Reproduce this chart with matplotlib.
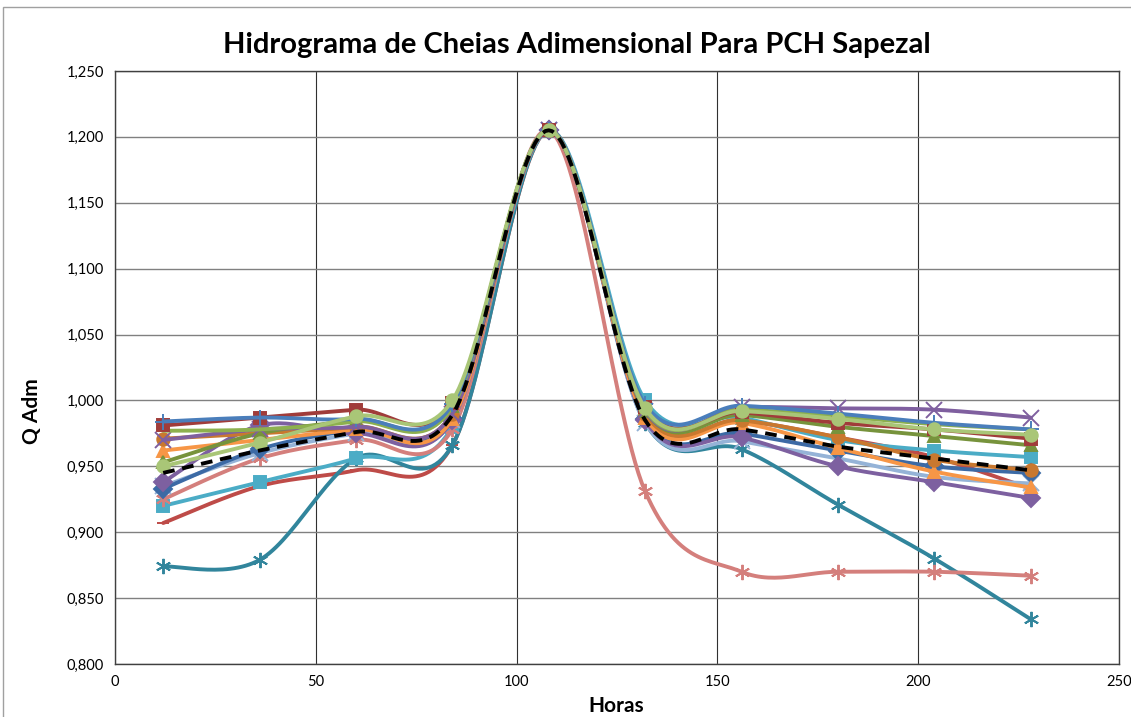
import numpy as np
import matplotlib
matplotlib.use("Agg")
import matplotlib.pyplot as plt
from matplotlib.patches import Rectangle
from matplotlib.ticker import FuncFormatter

plt.rcParams['font.family'] = ['Lato', 'DejaVu Sans']

# Horas
horas = [12, 36, 60, 84, 108, 132, 156, 180, 204, 228]

# Q adimensional de cada cheia
s_azul_mais = [0.984, 0.987, 0.986, 0.997, 1.205, 0.997, 0.996, 0.990, 0.983, 0.978]
s_vinho_quad = [0.981, 0.987, 0.993, 0.998, 1.205, 0.995, 0.991, 0.983, 0.978, 0.971]
s_verde_linha = [0.977, 0.978, 0.984, 0.995, 1.205, 0.993, 0.993, 0.988, 0.982, 0.978]
s_roxo_x = [0.970, 0.978, 0.980, 0.990, 1.205, 0.992, 0.995, 0.994, 0.993, 0.987]
s_verde_tri = [0.953, 0.975, 0.985, 0.996, 1.205, 0.992, 0.989, 0.980, 0.973, 0.966]
s_azul_losango = [0.933, 0.963, 0.978, 0.987, 1.205, 0.986, 0.975, 0.962, 0.950, 0.945]
s_roxo_losango = [0.938, 0.981, 0.975, 0.985, 1.205, 0.985, 0.972, 0.950, 0.938, 0.926]
s_azulclaro_x = [0.935, 0.960, 0.975, 0.985, 1.205, 0.983, 0.969, 0.956, 0.942, 0.937]
s_rosa_estrela = [0.925, 0.956, 0.970, 0.978, 1.205, 0.931, 0.870, 0.870, 0.870, 0.867]
s_ciano_quad = [0.920, 0.938, 0.956, 0.980, 1.205, 1.000, 0.987, 0.970, 0.962, 0.957]
s_petroleo_estrela = [0.874, 0.879, 0.956, 0.966, 1.205, 0.983, 0.963, 0.921, 0.880, 0.834]
s_vermelho_traco = [0.907, 0.935, 0.947, 0.966, 1.205, 0.990, 0.985, 0.972, 0.957, 0.933]
s_laranja_circ = [0.971, 0.975, 0.980, 0.990, 1.205, 0.990, 0.985, 0.972, 0.955, 0.947]
s_laranja_tri = [0.962, 0.970, 0.978, 0.986, 1.205, 0.987, 0.983, 0.964, 0.946, 0.934]
s_verdeclaro_circ = [0.950, 0.968, 0.988, 1.000, 1.205, 0.994, 0.992, 0.986, 0.978, 0.974]
media = [0.945, 0.962, 0.976, 0.989, 1.205, 0.985, 0.978, 0.965, 0.956, 0.947]

estrela = (6, 2, 0)
series = [
    (s_vermelho_traco, '#BE4B48', '_'),
    (s_petroleo_estrela, '#31859C', estrela),
    (s_ciano_quad, '#4BACC6', 's'),
    (s_rosa_estrela, '#D47F7C', estrela),
    (s_azulclaro_x, '#95B3D7', 'x'),
    (s_azul_losango, '#3C6AA5', 'D'),
    (s_roxo_losango, '#7D60A0', 'D'),
    (s_laranja_tri, '#F79646', '^'),
    (s_laranja_circ, '#C9782F', 'o'),
    (s_verde_tri, '#77933C', '^'),
    (s_roxo_x, '#7F5F9F', 'x'),
    (s_verde_linha, '#8DB04E', None),
    (s_vinho_quad, '#A03C3A', 's'),
    (s_azul_mais, '#4A7EBB', '+'),
    (s_verdeclaro_circ, '#A9C677', 'o'),
]


def suavizar(x, y, n=30):
    # curva suavizada estilo Excel (Bezier com tensao 1/6)
    x = np.asarray(x, float)
    y = np.asarray(y, float)
    px = np.concatenate([[x[0]], x, [x[-1]]])
    py = np.concatenate([[y[0]], y, [y[-1]]])
    t = np.linspace(0, 1, n)[:, None]
    xs, ys = [], []
    for i in range(1, len(px) - 2):
        p0 = np.array([px[i], py[i]])
        p3 = np.array([px[i + 1], py[i + 1]])
        p1 = p0 + (np.array([px[i + 1], py[i + 1]]) - np.array([px[i - 1], py[i - 1]])) / 6
        p2 = p3 - (np.array([px[i + 2], py[i + 2]]) - np.array([px[i], py[i]])) / 6
        b = ((1 - t) ** 3) * p0 + 3 * ((1 - t) ** 2) * t * p1 + 3 * (1 - t) * t ** 2 * p2 + t ** 3 * p3
        xs.append(b[:, 0])
        ys.append(b[:, 1])
    return np.concatenate(xs), np.concatenate(ys)


fig = plt.figure(figsize=(11.31, 7.17), dpi=100)
ax = fig.add_axes([0.1017, 0.0739, 0.8877, 0.8271])

for valores, cor, marcador in series:
    xs, ys = suavizar(horas, valores)
    ax.plot(xs, ys, color=cor, lw=2.8, solid_capstyle='round')
    if marcador is not None:
        tam = 11 if marcador in (estrela, 'x', '+') else 9
        ax.plot(horas, valores, ls='none', marker=marcador, color=cor,
                markersize=tam, markeredgewidth=1.4)

xs, ys = suavizar(horas, media)
ax.plot(xs, ys, color='black', lw=2.8, ls=(0, (3, 2)))

ax.set_xlim(0, 250)
ax.set_ylim(0.8, 1.25)
ax.set_xticks(np.arange(0, 251, 50))
ax.set_yticks(np.arange(0.8, 1.2501, 0.05))
ax.yaxis.set_major_formatter(FuncFormatter(lambda v, p: f"{v:.3f}".replace('.', ',')))
ax.tick_params(length=0, labelsize=10.5, pad=8)
ax.grid(axis='y', color='#808080', lw=1.0)
ax.grid(axis='x', color='#303030', lw=0.8)
ax.set_axisbelow(True)
for s in ax.spines.values():
    s.set_color('#404040')
    s.set_linewidth(1.0)

fig.text(0.51, 0.937, 'Hidrograma de Cheias Adimensional Para PCH Sapezal',
         ha='center', va='center', fontsize=21, fontweight='bold')
fig.text(0.545, 0.015, 'Horas', ha='center', va='center', fontsize=15, fontweight='bold')
fig.text(0.028, 0.427, 'Q Adm', ha='center', va='center', fontsize=15,
         fontweight='bold', rotation=90)

fig.patches.append(Rectangle((0.003, -0.01), 1.2, 1.0, transform=fig.transFigure,
                             fill=False, edgecolor='#A0A0A0', lw=1.0))

fig.savefig('out.png', dpi=100)
